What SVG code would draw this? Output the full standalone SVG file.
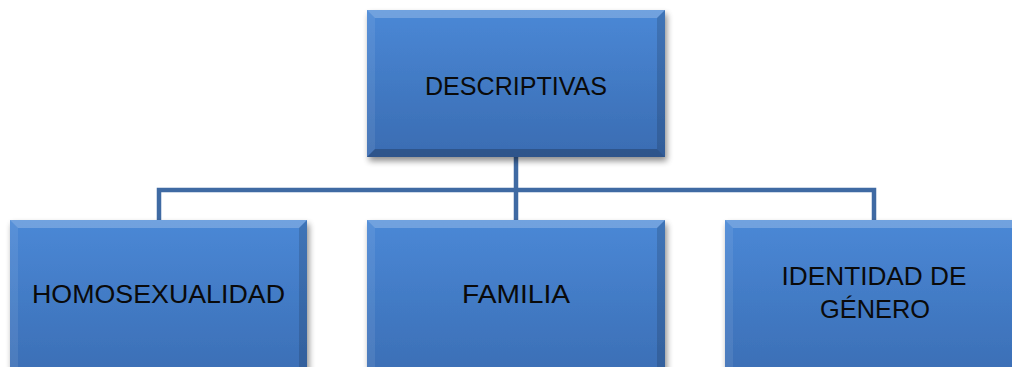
<svg xmlns="http://www.w3.org/2000/svg" width="1012" height="367" viewBox="0 0 1012 367">
<defs>
<linearGradient id="g" x1="0" y1="0" x2="0" y2="1">
<stop offset="0" stop-color="#4a88d6"/>
<stop offset="1" stop-color="#3a6cb2"/>
</linearGradient>
<filter id="sh" x="-10%" y="-10%" width="125%" height="130%">
<feGaussianBlur in="SourceAlpha" stdDeviation="3"/>
<feOffset dx="2" dy="4" result="b"/>
<feComponentTransfer><feFuncA type="linear" slope="0.45"/></feComponentTransfer>
<feMerge><feMergeNode/><feMergeNode in="SourceGraphic"/></feMerge>
</filter>
</defs>
<style>
.box{fill:url(#g);filter:url(#sh)}
.bt{fill:#ffffff;fill-opacity:0.22}
.bl{fill:#ffffff;fill-opacity:0.08}
.br{fill:#000000;fill-opacity:0.14}
.bb{fill:#000000;fill-opacity:0.22}
.conn{fill:none;stroke:#3f6aa3;stroke-width:4.5}
text{font-family:"Liberation Sans",Arial,sans-serif;font-size:25px;fill:#0a0a0a;text-anchor:middle}
</style>
<g id="connectors">
<path class="conn" d="M516,157 V190 M159,220 V190 H874 V220 M516,190 V220"/>
</g>
<g id="node-descriptivas">
<rect class="box" x="367" y="10" width="298" height="147"/>
<polygon class="bt" points="367,10 665,10 657,18 375,18"/>
<polygon class="bl" points="367,10 375,18 375,149 367,157"/>
<polygon class="br" points="665,10 665,157 657,149 657,18"/>
<polygon class="bb" points="367,157 665,157 657,149 375,149"/>
<text x="516" y="95" textLength="182" lengthAdjust="spacingAndGlyphs">DESCRIPTIVAS</text>
</g>
<g id="node-homosexualidad">
<rect class="box" x="10" y="220" width="297" height="170"/>
<polygon class="bt" points="10,220 307,220 299,228 18,228"/>
<polygon class="bl" points="10,220 18,228 18,390 10,390"/>
<polygon class="br" points="307,220 307,390 299,390 299,228"/>
<text x="158.5" y="303" textLength="253" lengthAdjust="spacingAndGlyphs">HOMOSEXUALIDAD</text>
</g>
<g id="node-familia">
<rect class="box" x="367" y="220" width="298" height="170"/>
<polygon class="bt" points="367,220 665,220 657,228 375,228"/>
<polygon class="bl" points="367,220 375,228 375,390 367,390"/>
<polygon class="br" points="665,220 665,390 657,390 657,228"/>
<text x="516" y="303" textLength="108" lengthAdjust="spacingAndGlyphs">FAMILIA</text>
</g>
<g id="node-identidad">
<rect class="box" x="725" y="220" width="298" height="170"/>
<polygon class="bt" points="725,220 1023,220 1015,228 733,228"/>
<polygon class="bl" points="725,220 733,228 733,390 725,390"/>
<text x="874" y="285" textLength="185" lengthAdjust="spacingAndGlyphs">IDENTIDAD DE</text>
<text x="875" y="318" textLength="110" lengthAdjust="spacingAndGlyphs">GÉNERO</text>
</g>
</svg>
